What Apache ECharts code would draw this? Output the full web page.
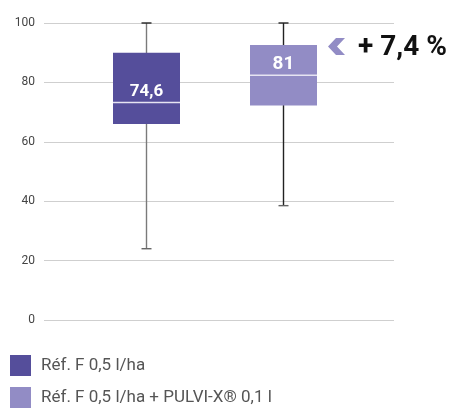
<!DOCTYPE html>
<html>
<head>
<meta charset="utf-8">
<script src="https://cdn.jsdelivr.net/npm/echarts@6/dist/echarts.min.js"></script>
<style>html,body{margin:0;padding:0;background:#fff}#c{width:453px;height:410px}</style>
</head>
<body>
<div id="c"></div>
<script>
const categories = ['Réf. F 0,5 l/ha', 'Réf. F 0,5 l/ha + PULVI-X® 0,1 l'];
const minVals = [24, 38.5];
const q1Vals = [66, 72.2];
const medianVals = [73.2, 82.4];
const q3Vals = [90, 92.6];
const maxVals = [100, 100];
const boxLabels = ['74,6', '81'];
const yTicks = [0, 20, 40, 60, 80, 100];
const gainText = '+ 7,4 %';

const colors = ['#554e9b', '#928cc5'];
const whiskerColors = ['#7a7a7a', '#222222'];
const labelSizes = [17, 19];
const FONT = 'Roboto, "DejaVu Sans", sans-serif';

const chart = echarts.init(document.getElementById('c'), null, {renderer: 'canvas'});

function makeSeries(i) {
  return {
    type: 'custom',
    name: categories[i],
    xAxisIndex: 1,
    yAxisIndex: 1,
    itemStyle: {color: colors[i]},
    encode: {x: 0, y: [1, 2, 3, 4, 5]},
    data: [[i, minVals[i], q1Vals[i], medianVals[i], q3Vals[i], maxVals[i]]],
    renderItem: function (params, api) {
      const x = api.value(0);
      const pMin = api.coord([x, api.value(1)]);
      const pQ1 = api.coord([x, api.value(2)]);
      const pMed = api.coord([x, api.value(3)]);
      const pQ3 = api.coord([x, api.value(4)]);
      const pMax = api.coord([x, api.value(5)]);
      const cx = Math.round(pMin[0]) + 0.5;
      const bw = 67, cap = 10;
      return {
        type: 'group',
        children: [
          {type: 'line', shape: {x1: cx, y1: pMin[1], x2: cx, y2: pMax[1]},
           style: {stroke: whiskerColors[i], lineWidth: 1.4}},
          {type: 'line', shape: {x1: cx - cap / 2, y1: pMin[1], x2: cx + cap / 2, y2: pMin[1]},
           style: {stroke: '#666', lineWidth: 1.4}},
          {type: 'line', shape: {x1: cx - cap / 2, y1: pMax[1], x2: cx + cap / 2, y2: pMax[1]},
           style: {stroke: '#222', lineWidth: 1.4}},
          {type: 'rect', shape: {x: cx - bw / 2, y: pQ3[1], width: bw, height: pQ1[1] - pQ3[1]},
           style: {fill: colors[i]}},
          {type: 'line', shape: {x1: cx - bw / 2, y1: pMed[1], x2: cx + bw / 2, y2: pMed[1]},
           style: {stroke: '#e6e4f2', lineWidth: 1.5}},
          {type: 'text', x: cx, y: pMed[1] - 11,
           style: {text: boxLabels[i], fill: '#ffffff', font: 'bold ' + labelSizes[i] + 'px ' + FONT,
                   align: 'center', verticalAlign: 'middle'}}
        ]
      };
    }
  };
}

const legendBase = {
  orient: 'vertical', left: 10,
  itemWidth: 21, itemHeight: 21, icon: 'rect',
  padding: 0,
  textStyle: {color: '#555', fontSize: 17, fontFamily: FONT, padding: [4, 0, 0, 5]}
};

chart.setOption({
  animation: false,
  grid: [
    {left: 44, right: 59, top: 23, bottom: 90},
    {left: 77, right: 102, top: 23, bottom: 90}
  ],
  xAxis: [
    {type: 'category', gridIndex: 0, data: categories, show: false},
    {type: 'category', gridIndex: 1, data: categories, show: false, boundaryGap: true}
  ],
  yAxis: [
    {type: 'value', gridIndex: 0, min: 0, max: 100, interval: 20,
     axisLine: {show: false}, axisTick: {show: false},
     axisLabel: {color: '#444', fontSize: 12, fontFamily: FONT, margin: 9,
                 formatter: v => yTicks.indexOf(v) >= 0 ? String(v) : ''},
     splitLine: {lineStyle: {color: '#cfcfcf', width: 1.2}}},
    {type: 'value', gridIndex: 1, min: 0, max: 100, interval: 20, show: false,
     splitLine: {show: false}}
  ],
  legend: [
    Object.assign({}, legendBase, {top: 355, data: [categories[0]]}),
    Object.assign({}, legendBase, {top: 387, data: [categories[1]]})
  ],
  graphic: [
    {type: 'polygon', left: 328, top: 38,
     shape: {points: [[8, 0], [17, 0], [9, 8.5], [17, 17], [8, 17], [0, 8.5]]},
     style: {fill: colors[1]}},
    {type: 'text',
     style: {text: gainText, x: 358, y: 48, verticalAlign: 'middle', fill: '#111',
             font: 'bold 28px ' + FONT}}
  ],
  series: [makeSeries(0), makeSeries(1)]
});
</script>
</body>
</html>
